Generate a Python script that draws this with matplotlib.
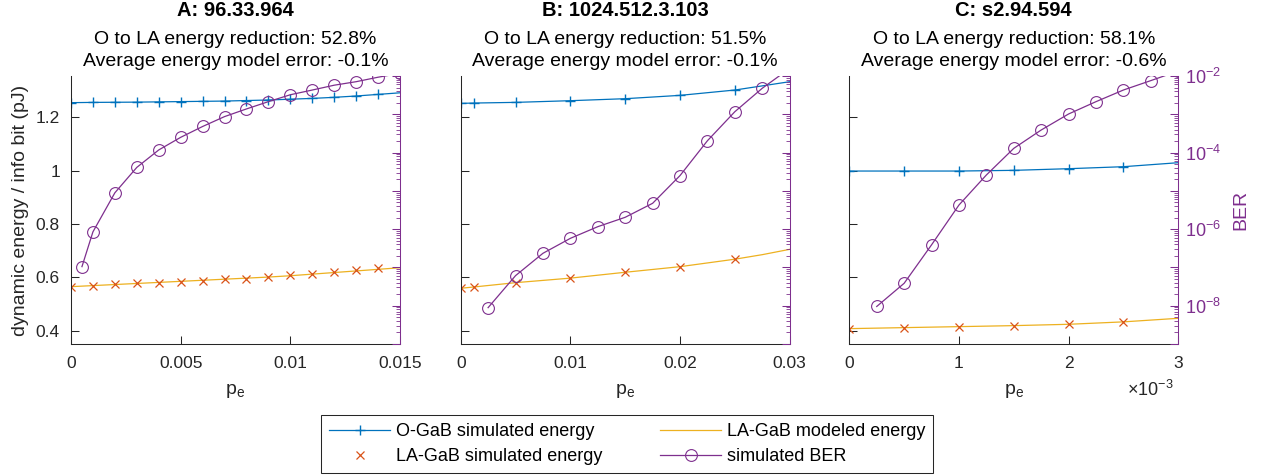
import matplotlib
matplotlib.use("Agg")
import matplotlib.pyplot as plt
from matplotlib.lines import Line2D
from matplotlib.ticker import FuncFormatter, NullFormatter, FixedLocator

plt.rcParams['font.family'] = ['Liberation Sans', 'DejaVu Sans']
plt.rcParams['mathtext.fontset'] = 'custom'
plt.rcParams['mathtext.rm'] = 'Liberation Sans'

# ---------------- data ----------------
titles = ["A: 96.33.964", "B: 1024.512.3.103", "C: s2.94.594"]
reductions = ["52.8%", "51.5%", "58.1%"]
model_errors = ["-0.1%", "-0.1%", "-0.6%"]
x_limits = [0.015, 0.03, 3.0]
x_ticks = [[0, 0.005, 0.01, 0.015], [0, 0.01, 0.02, 0.03], [0, 1, 2, 3]]

# Panel A
A_pe_O = [0, 0.001, 0.002, 0.003, 0.004, 0.005, 0.006, 0.007, 0.008,
          0.009, 0.010, 0.011, 0.012, 0.013, 0.014, 0.015]
A_O_sim = [1.255, 1.256, 1.2565, 1.257, 1.258, 1.259, 1.260, 1.261, 1.263,
           1.265, 1.268, 1.271, 1.275, 1.280, 1.286, 1.292]
A_pe_LA = [0, 0.001, 0.002, 0.003, 0.004, 0.005, 0.006, 0.007, 0.008,
           0.009, 0.010, 0.011, 0.012, 0.013, 0.014]
A_LA_sim = [0.5638, 0.5689, 0.5739, 0.5776, 0.5801, 0.5838, 0.5876, 0.5926,
            0.5951, 0.6013, 0.6076, 0.6138, 0.6200, 0.6276, 0.6339]
A_pe_model = [0, 0.001, 0.002, 0.003, 0.004, 0.005, 0.006, 0.007, 0.008,
              0.009, 0.010, 0.011, 0.012, 0.013, 0.014, 0.015]
A_LA_model = [0.565, 0.569, 0.573, 0.577, 0.581, 0.585, 0.589, 0.593, 0.597,
              0.601, 0.606, 0.612, 0.618, 0.624, 0.630, 0.636]
A_pe_BER = [0.0005, 0.001, 0.002, 0.003, 0.004, 0.005, 0.006, 0.007, 0.008,
            0.009, 0.010, 0.011, 0.012, 0.013, 0.014, 0.015]
A_BER = [1.05e-7, 8.5e-7, 8.9e-6, 4.1e-5, 1.17e-4, 2.5e-4, 4.8e-4, 8.7e-4,
         1.38e-3, 2.14e-3, 3.24e-3, 4.3e-3, 5.75e-3, 7.1e-3, 9.3e-3, 1.17e-2]

# Panel B
B_pe_O = [0, 0.00125, 0.005, 0.01, 0.015, 0.02, 0.025, 0.03]
B_O_sim = [1.2524, 1.2536, 1.2561, 1.2624, 1.2699, 1.2824, 1.3024, 1.3336]
B_pe_LA = [0, 0.00125, 0.005, 0.01, 0.015, 0.02, 0.025]
B_LA_sim = [0.5589, 0.5639, 0.5801, 0.5964, 0.6189, 0.6401, 0.6688]
B_pe_model = [0, 0.00125, 0.005, 0.01, 0.015, 0.02, 0.025, 0.0275, 0.03]
B_LA_model = [0.559, 0.564, 0.580, 0.597, 0.619, 0.640, 0.668, 0.685, 0.705]
B_pe_BER = [0.0025, 0.005, 0.0075, 0.01, 0.0125, 0.015, 0.0175, 0.02,
            0.0225, 0.025, 0.0275, 0.03]
B_BER = [8.9e-9, 6.1e-8, 2.34e-7, 5.75e-7, 1.16e-6, 2.04e-6, 4.73e-6,
         2.51e-5, 2.04e-4, 1.17e-3, 4.79e-3, 1.58e-2]

# Panel C (p_e in units of 1e-3)
C_pe_O = [0, 0.5, 1.0, 1.5, 2.0, 2.5, 3.0]
C_O_sim = [0.9986, 0.9986, 0.9986, 1.0012, 1.0074, 1.0149, 1.0299]
C_pe_LA = [0, 0.5, 1.0, 1.5, 2.0, 2.5]
C_LA_sim = [0.4076, 0.4114, 0.4151, 0.4189, 0.4239, 0.4339]
C_pe_model = [0, 0.5, 1.0, 1.5, 2.0, 2.5, 3.0]
C_LA_model = [0.4076, 0.4114, 0.4151, 0.4189, 0.4239, 0.4330, 0.4464]
C_pe_BER = [0.25, 0.5, 0.75, 1.0, 1.25, 1.5, 1.75, 2.0, 2.25, 2.5, 2.75, 3.0]
C_BER = [9.55e-9, 3.85e-8, 3.89e-7, 4.27e-6, 2.6e-5, 1.29e-4, 3.89e-4,
         1.02e-3, 2.14e-3, 4.31e-3, 7.59e-3, 1.35e-2]

panels = [
    (A_pe_O, A_O_sim, A_pe_LA, A_LA_sim, A_pe_model, A_LA_model, A_pe_BER, A_BER),
    (B_pe_O, B_O_sim, B_pe_LA, B_LA_sim, B_pe_model, B_LA_model, B_pe_BER, B_BER),
    (C_pe_O, C_O_sim, C_pe_LA, C_LA_sim, C_pe_model, C_LA_model, C_pe_BER, C_BER),
]

# ---------------- style ----------------
BLUE = '#0072BD'
ORANGE = '#D95319'
YELLOW = '#EDB120'
PURPLE = '#7E2F8E'
DARK = '#262626'

W, H = 1261, 475
fig = plt.figure(figsize=(W / 100, H / 100), dpi=100)

lefts = [71, 460.7, 849.3]
ax_w, ax_h = 329, 268
ax_bottom = 131

gfmt = FuncFormatter(lambda v, p: '%g' % v)

PLUS = dict(marker='+', ms=7.5, mew=1.0)
CROSS = dict(marker='x', ms=6, mew=0.9)
CIRC = dict(marker='o', ms=8.5, mfc='none', mew=0.8)

for i, (peO, Osim, peLA, LAsim, pemod, LAmod, peB, ber) in enumerate(panels):
    ax = fig.add_axes([lefts[i] / W, ax_bottom / H, ax_w / W, ax_h / H])
    ax.plot(peO, Osim, color=BLUE, lw=0.9, markevery=slice(0, len(peO) - 1), **PLUS)
    ax.plot(pemod, LAmod, color=YELLOW, lw=0.9)
    ax.plot(peLA, LAsim, ls='none', color=ORANGE, **CROSS)
    ax.set_xlim(0, x_limits[i])
    ax.set_ylim(0.35, 1.355)
    ax.set_xticks(x_ticks[i])
    ax.set_yticks([0.4, 0.6, 0.8, 1.0, 1.2])
    ax.xaxis.set_major_formatter(gfmt)
    ax.yaxis.set_major_formatter(gfmt if i == 0 else NullFormatter())
    ax.tick_params(axis='both', direction='in', length=6, width=0.75,
                   color=DARK, labelcolor=DARK, labelsize=12.5)
    ax.tick_params(axis='x', pad=9)
    ax.tick_params(axis='y', pad=8, right=False)
    ax.spines['top'].set_visible(False)
    ax.spines['right'].set_visible(False)
    for s in ('left', 'bottom'):
        ax.spines[s].set_color(DARK)
        ax.spines[s].set_linewidth(0.75)
    ax.set_xlabel('p$_{\\mathregular{e}}$', fontsize=14, color=DARK)
    ax.xaxis.set_label_coords(0.5, -0.14)
    if i == 0:
        ax.set_ylabel('dynamic energy / info bit (pJ)', fontsize=14, color=DARK)
        ax.yaxis.set_label_coords(-0.128, 0.5)

    ax2 = ax.twinx()
    ax2.plot(peB, ber, color=PURPLE, lw=0.9, **CIRC)
    ax2.set_yscale('log')
    ax2.set_ylim(1e-9, 1e-2)
    ax2.set_xlim(0, x_limits[i])
    decades = [1e-9, 1e-8, 1e-7, 1e-6, 1e-5, 1e-4, 1e-3, 1e-2]
    ax2.yaxis.set_major_locator(FixedLocator(decades))
    minors = [m * d for d in decades[:-1] for m in range(2, 10)]
    ax2.yaxis.set_minor_locator(FixedLocator(minors))
    if i == 2:
        labels = {1e-8: '$\\mathregular{10^{-8}}$', 1e-6: '$\\mathregular{10^{-6}}$',
                  1e-4: '$\\mathregular{10^{-4}}$', 1e-2: '$\\mathregular{10^{-2}}$'}
        ax2.yaxis.set_major_formatter(FuncFormatter(
            lambda v, p: next((t for k, t in labels.items() if abs(v / k - 1) < 1e-6), '')))
        ax2.set_ylabel('BER', fontsize=14, color=PURPLE)
        ax2.yaxis.set_label_coords(1.163, 0.5)
    else:
        ax2.yaxis.set_major_formatter(NullFormatter())
    ax2.yaxis.set_minor_formatter(NullFormatter())
    ax2.tick_params(axis='y', which='major', direction='in', length=6, width=0.75,
                    color=PURPLE, labelcolor=PURPLE, labelsize=13, pad=5)
    ax2.tick_params(axis='y', which='minor', direction='in', length=3, width=0.6,
                    color=PURPLE)
    for s in ('top', 'left', 'bottom'):
        ax2.spines[s].set_visible(False)
    ax2.spines['right'].set_color(PURPLE)
    ax2.spines['right'].set_linewidth(0.75)

    cx = (lefts[i] + ax_w / 2) / W
    fig.text(cx, 1 - 10 / H, titles[i], ha='center', va='center',
             fontsize=14.5, fontweight='bold', color='black')
    fig.text(cx, 1 - 40 / H, 'O to LA energy reduction: ' + reductions[i],
             ha='center', va='center', fontsize=14, color='black')
    fig.text(cx, 1 - 62 / H, 'Average energy model error: ' + model_errors[i],
             ha='center', va='center', fontsize=14, color='black')

fig.text(1127 / W, 1 - 390 / H, '\u00d710$^{\\mathregular{-3}}$', ha='left',
         va='center', fontsize=13, color=DARK)

handles = [
    Line2D([], [], color=BLUE, lw=0.9, **PLUS),
    Line2D([], [], color=ORANGE, ls='none', **CROSS),
    Line2D([], [], color=YELLOW, lw=0.9),
    Line2D([], [], color=PURPLE, lw=0.9, **CIRC),
]
labels_leg = ['O-GaB simulated energy', 'LA-GaB simulated energy',
              'LA-GaB modeled energy', 'simulated BER']
leg = fig.legend(handles, labels_leg, ncol=2, loc='center',
                 bbox_to_anchor=(627 / W, 1 - 444 / H), fontsize=13,
                 frameon=True, fancybox=False, framealpha=1, edgecolor=DARK,
                 handlelength=3.4, handletextpad=0.3, columnspacing=3.2,
                 borderpad=0.45, labelspacing=0.45)
leg.get_frame().set_linewidth(0.75)

fig.savefig('out.png', dpi=100)
